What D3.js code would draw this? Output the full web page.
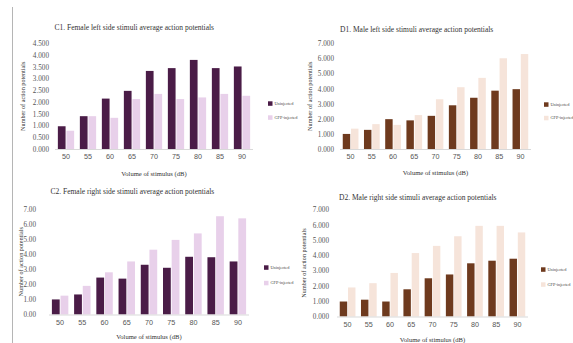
<!DOCTYPE html>
<html><head><meta charset="utf-8">
<script src="https://cdn.jsdelivr.net/npm/d3@7"></script>
<style>
body{margin:0;background:#fff;}
svg{display:block;font-family:"Liberation Serif","DejaVu Serif",serif;}
</style></head>
<body><svg id="c" width="573" height="343"></svg>
<script>
const categories = ["50","55","60","65","70","75","80","85","90"];
const seriesNames = ["Uninjected","GFP-injected"];

const c1Uninjected = [0.97,1.40,2.15,2.48,3.33,3.45,3.80,3.45,3.52];
const c1GFP        = [0.78,1.40,1.33,2.13,2.35,2.13,2.20,2.35,2.27];
const d1Uninjected = [1.00,1.27,1.98,1.90,2.20,2.90,3.40,3.87,3.97];
const d1GFP        = [1.35,1.65,1.60,2.25,3.30,4.10,4.72,6.02,6.30];
const c2Uninjected = [1.00,1.33,2.45,2.38,3.30,3.10,3.83,3.80,3.52];
const c2GFP        = [1.25,1.90,2.80,3.52,4.30,4.95,5.38,6.52,6.38];
const d2Uninjected = [0.98,1.10,0.98,1.78,2.50,2.75,3.48,3.65,3.78];
const d2GFP        = [1.90,2.18,2.85,4.15,4.62,5.25,5.93,5.93,5.50];

const c1Ticks = [0,0.5,1,1.5,2,2.5,3,3.5,4,4.5];
const sevenTicks = [0,1,2,3,4,5,6,7];

const titles = {
  c1:"C1. Female left side stimuli average action potentials",
  d1:"D1. Male left side stimuli average action potentials",
  c2:"C2. Female right side stimuli average action potentials",
  d2:"D2. Male right side stimuli average action potentials"
};
const xTitle = "Volume of stimulus (dB)";
const yTitle = "Number of action potentials";

const purple = ["#4a1c47","#e8d0ea"];
const brown  = ["#6e3a1e","#f6e4da"];

const svg = d3.select("#c");

// left page margin line
svg.append("line").attr("x1",12.5).attr("x2",12.5).attr("y1",7).attr("y2",343)
  .attr("stroke","#b5b5b5").attr("stroke-width",1);

function panel(o){
  const g = svg.append("g");
  const x = d3.scaleBand().domain(categories).range([o.left,o.right]).paddingInner(0.26).paddingOuter(0.13);
  const xs = d3.scaleBand().domain(seriesNames).range([0,x.bandwidth()]).paddingInner(0.1);
  const y = d3.scaleLinear().domain([0,o.max]).range([o.bottom,o.top]);
  const vals = [o.a,o.b];

  categories.forEach((c,i)=>{
    seriesNames.forEach((s,j)=>{
      g.append("rect")
        .attr("x",x(c)+xs(s)).attr("width",xs.bandwidth())
        .attr("y",y(vals[j][i])).attr("height",y(0)-y(vals[j][i]))
        .attr("fill",o.colors[j]);
    });
  });
  // baseline
  g.append("line").attr("x1",o.left).attr("x2",o.right).attr("y1",y(0)+0.5).attr("y2",y(0)+0.5)
    .attr("stroke","#d9d9d9").attr("stroke-width",1);

  const ya = d3.axisLeft(y).tickValues(o.ticks).tickFormat(d3.format(o.fmt)).tickSize(0).tickPadding(o.tickPad);
  const yg = g.append("g").attr("transform",`translate(${o.left},0)`).call(ya);
  yg.select(".domain").remove();
  yg.selectAll("text").attr("font-size",7.2).attr("fill","#555").attr("font-family","Liberation Serif, serif");

  const xa = d3.axisBottom(x).tickSize(0).tickPadding(5);
  const xg = g.append("g").attr("transform",`translate(0,${y(0)})`).call(xa);
  xg.select(".domain").remove();
  xg.selectAll("text").attr("font-size",7.2).attr("fill","#555");

  g.append("text").attr("x",o.titleX).attr("y",o.titleY).attr("font-size",7.5).attr("fill","#333").text(o.title);
  g.append("text").attr("x",(o.left+o.right)/2).attr("y",o.xTitleY).attr("text-anchor","middle")
    .attr("font-size",6.6).attr("fill","#333").text(xTitle);
  g.append("text").attr("transform",`translate(${o.yTitleX},${(o.top+o.bottom)/2}) rotate(-90)`)
    .attr("text-anchor","middle").attr("font-size",6.2).attr("fill","#333").text(yTitle);

  seriesNames.forEach((s,j)=>{
    const ly = o.legY + j*o.legGap;
    g.append("rect").attr("x",o.legX).attr("y",ly-2.2).attr("width",4.5).attr("height",4.5).attr("fill",o.colors[j]);
    g.append("text").attr("x",o.legX+6.5).attr("y",ly+1.3).attr("font-size",4.3).attr("fill","#444").text(s);
  });
}

panel({a:c1Uninjected,b:c1GFP,colors:purple,max:4.5,ticks:c1Ticks,fmt:".3f",tickPad:6,
  left:55,right:253,top:43.5,bottom:149,title:titles.c1,titleX:54.5,titleY:29.5,
  xTitleY:176,yTitleX:24.5,legX:268,legY:103.5,legGap:14});
panel({a:d1Uninjected,b:d1GFP,colors:brown,max:7,ticks:sevenTicks,fmt:".3f",tickPad:6,
  left:340,right:531,top:43.5,bottom:149,title:titles.d1,titleX:340,titleY:31.5,
  xTitleY:175,yTitleX:312,legX:544,legY:104.5,legGap:13.5});
panel({a:c2Uninjected,b:c2GFP,colors:purple,max:7,ticks:sevenTicks,fmt:".2f",tickPad:13,
  left:49,right:249,top:209,bottom:314.5,title:titles.c2,titleX:50.5,titleY:193.5,
  xTitleY:338.5,yTitleX:23,legX:264,legY:267.5,legGap:15.5});
panel({a:d2Uninjected,b:d2GFP,colors:brown,max:7,ticks:sevenTicks,fmt:".3f",tickPad:8,
  left:337,right:528,top:209.5,bottom:316.5,title:titles.d2,titleX:339,titleY:199.5,
  xTitleY:341.5,yTitleX:305.5,legX:541,legY:269.5,legGap:15});
</script></body></html>
